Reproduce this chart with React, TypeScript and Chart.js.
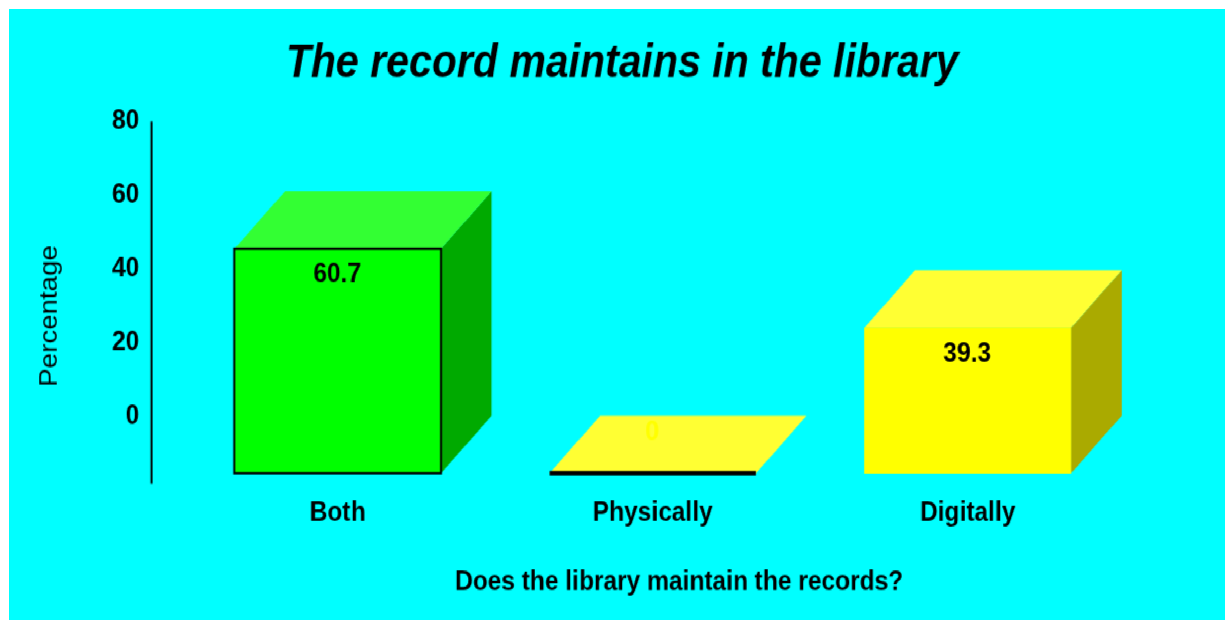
import React, { useEffect, useRef } from "react";
import { Chart, registerables } from "chart.js";

Chart.register(...registerables);

const categories = ["Both", "Physically", "Digitally"];
const percentages = [60.7, 0, 39.3];
const yTickValues = [0, 20, 40, 60, 80];
const frontColors = ["#00ff00", "#ffff00", "#ffff00"];
const topColors = ["#33ff33", "#ffff33", "#ffff33"];
const sideColors = ["#00aa00", "#aaaa00", "#aaaa00"];
const outlineWidths = [2, 4, 0];
const chartTitle = "The record maintains in the library";
const xTitle = "Does the library maintain the records?";
const yTitle = "Percentage";

const DEPTH = 50;
const W = 1200;
const H = 530;
const FONT = "'Liberation Sans', Arial, sans-serif";

const cube3d = {
  id: "cube3d",
  afterLayout(chart: any) {
    const x = chart.scales.x;
    const y = chart.scales.y;
    x.left += 26;
    x.right += 26;
    y.top += 12.4;
    y.bottom += 12.4;
    chart.titleBlock.left += 54.3;
    chart.titleBlock.right += 54.3;
  },
  beforeDatasetDraw(chart: any, args: any) {
    const ctx = chart.ctx;
    const yScale = chart.scales.y;
    // y axis line, standing left of the plot
    ctx.save();
    ctx.strokeStyle = "#000";
    ctx.lineWidth = 2;
    ctx.beginPath();
    const ax = chart.chartArea.left - 28.2;
    ctx.moveTo(ax, yScale.getPixelForValue(80) + 1.4);
    ctx.lineTo(ax, yScale.getPixelForValue(yScale.min));
    ctx.stroke();
    ctx.restore();

    const meta = args.meta;
    meta.data.forEach((el: any, i: number) => {
      const { x, y, base, width } = el.getProps(["x", "y", "base", "width"], true);
      const l = x - width / 2;
      const r = x + width / 2;
      const fy = y + DEPTH;
      const fb = base + DEPTH;
      ctx.fillStyle = sideColors[i];
      ctx.beginPath();
      ctx.moveTo(r, fy);
      ctx.lineTo(r + DEPTH, y);
      ctx.lineTo(r + DEPTH, base);
      ctx.lineTo(r, fb);
      ctx.closePath();
      ctx.fill();
      ctx.fillStyle = topColors[i];
      ctx.beginPath();
      ctx.moveTo(l, fy);
      ctx.lineTo(l + DEPTH, y);
      ctx.lineTo(r + DEPTH, y);
      ctx.lineTo(r, fy);
      ctx.closePath();
      ctx.fill();
    });
    ctx.save();
    ctx.translate(0, DEPTH);
  },
  afterDatasetDraw(chart: any, args: any) {
    const ctx = chart.ctx;
    ctx.restore();
    args.meta.data.forEach((el: any, i: number) => {
      const { x, y, base, width } = el.getProps(["x", "y", "base", "width"], true);
      const l = x - width / 2;
      const fy = y + DEPTH;
      const fb = base + DEPTH;
      const lw = outlineWidths[i];
      if (lw > 0) {
        ctx.strokeStyle = "#000";
        ctx.fillStyle = "#000";
        ctx.lineWidth = lw;
        if (fb - fy < 1) ctx.fillRect(l, fb - lw / 2, width, lw);
        else ctx.strokeRect(l, fy, width, fb - fy);
      }
      ctx.fillStyle = percentages[i] === 0 ? frontColors[i] : "#000";
      ctx.font = `bold 24.3px ${FONT}`;
      ctx.textAlign = "center";
      ctx.textBaseline = "middle";
      ctx.fillText(String(percentages[i]), x - 0.5, Math.min(fy + 22.5, fb - 35));
    });
  },
};

export default function App() {
  const ref = useRef<HTMLCanvasElement>(null);
  useEffect(() => {
    const chart = new Chart(ref.current as HTMLCanvasElement, {
      type: "bar",
      data: {
        labels: categories,
        datasets: [
          {
            data: percentages,
            backgroundColor: frontColors,
            borderWidth: 0,
            barThickness: 203.8,
            clip: false as any,
          },
        ],
      },
      options: {
        animation: false,
        responsive: false,
        devicePixelRatio: 1,
        layout: { padding: { left: 0, right: 98.4, top: 0, bottom: 0 } },
        plugins: {
          legend: { display: false },
          tooltip: { enabled: false },
          title: {
            display: true,
            text: chartTitle,
            color: "#000",
            font: { family: FONT, size: 40.5, weight: "bold", style: "italic" },
            padding: { top: 23.6, bottom: 23.8 },
          },
        },
        scales: {
          x: {
            grid: { display: false },
            border: { display: false },
            ticks: {
              color: "#000",
              font: { family: FONT, size: 24.2, weight: "bold" },
              padding: 3,
              maxRotation: 0,
            },
            title: {
              display: true,
              text: xTitle,
              color: "#000",
              font: { family: FONT, size: 24.2, weight: "bold" },
              padding: { top: 0, bottom: 17.9 },
            },
            afterFit: (s: any) => {
              s.height = 118.2;
            },
          },
          y: {
            min: -18.4,
            max: 80,
            grid: { display: false },
            border: { display: false },
            afterBuildTicks: (s: any) => {
              s.ticks = yTickValues.map((value) => ({ value }));
            },
            ticks: {
              color: "#000",
              font: { family: FONT, size: 24, weight: "bold" },
              padding: 32.6,
              labelOffset: 1,
            },
            title: {
              display: true,
              text: yTitle,
              color: "#000",
              font: { family: FONT, size: 24, weight: "normal" },
              padding: { top: 26, bottom: 0 },
            },
            afterFit: (s: any) => {
              s.width = 168.95;
            },
          },
        },
      },
      plugins: [cube3d],
    } as any);
    return () => chart.destroy();
  }, []);
  return (
    <div
      style={{
        position: "fixed",
        left: 9,
        top: 9,
        width: W,
        height: H,
        background: "#00ffff",
        transform: `scale(${1216 / W}, ${611 / H})`,
        transformOrigin: "0 0",
      }}
    >
      <canvas ref={ref} width={W} height={H} style={{ display: "block" }} />
    </div>
  );
}
